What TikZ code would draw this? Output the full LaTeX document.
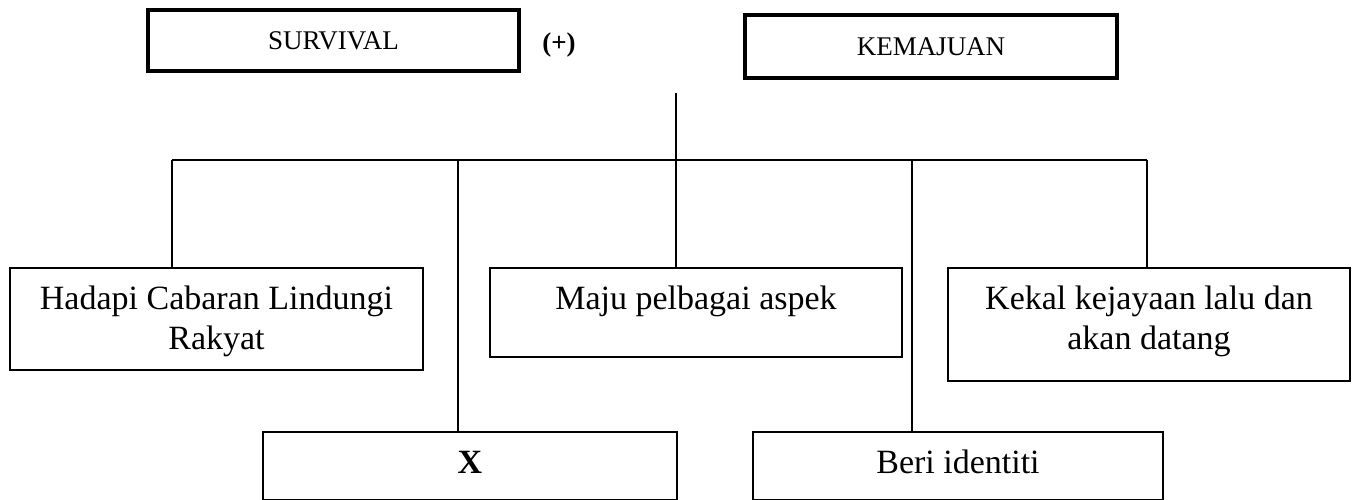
\documentclass[tikz,border=0pt]{standalone}
\usepackage{fontspec}
\setmainfont{Liberation Serif}
\newcommand\topbox[3]{\parbox[c][#2][t]{#1}{\centering\fontsize{34}{40}\selectfont\vspace*{13pt}\strut #3\par}}
\begin{document}
\begin{tikzpicture}[x=1pt,y=-1pt,
  headbox/.style={draw,line width=4pt,inner sep=0pt,font=\fontsize{27}{30}\selectfont},
  bodybox/.style={draw,line width=1.8pt,inner sep=0pt},
  link/.style={line width=1.8pt}]
\useasboundingbox (0,0) rectangle (1357,500);
\clip (0,0) rectangle (1357,500);
\fill[white] (0,0) rectangle (1357,500);
% head boxes
\node[headbox,minimum width=371pt,minimum height=61pt] (surv) at (333.5,40.5) {SURVIVAL};
\node[font=\bfseries\fontsize{27}{30}\selectfont] (plus) at (559,45) {(+)};
\node[headbox,minimum width=372pt,minimum height=63pt] (kem) at (931,46.5) {KEMAJUAN};
% body boxes
\node[bodybox] (hadapi) at (216.5,319) {\topbox{413pt}{102pt}{Hadapi Cabaran Lindungi\\Rakyat}};
\node[bodybox] (maju) at (696,312.5) {\topbox{412pt}{89pt}{Maju pelbagai aspek}};
\node[bodybox] (kekal) at (1149,324.5) {\topbox{402pt}{113pt}{Kekal kejayaan lalu dan\\akan datang}};
\node[bodybox] (x) at (470,466) {\topbox{414pt}{68pt}{\textbf{X}}};
\node[bodybox] (beri) at (958,466) {\topbox{410pt}{68pt}{Beri identiti}};
% connector points
\coordinate (stem) at (676,93);
\coordinate (j) at (676,160);
\coordinate (bL) at (172,160);
\coordinate (b2) at (458,160);
\coordinate (b4) at (912,160);
\coordinate (bR) at (1147,160);
\draw[link] (stem) -- (j);
\draw[link] (bL) -- (bR);
\draw[link] (bL) -- (bL |- hadapi.north);
\draw[link] (b2) -- (b2 |- x.north);
\draw[link] (j) -- (j |- maju.north);
\draw[link] (b4) -- (b4 |- beri.north);
\draw[link] (bR) -- (bR |- kekal.north);
\end{tikzpicture}
\end{document}
